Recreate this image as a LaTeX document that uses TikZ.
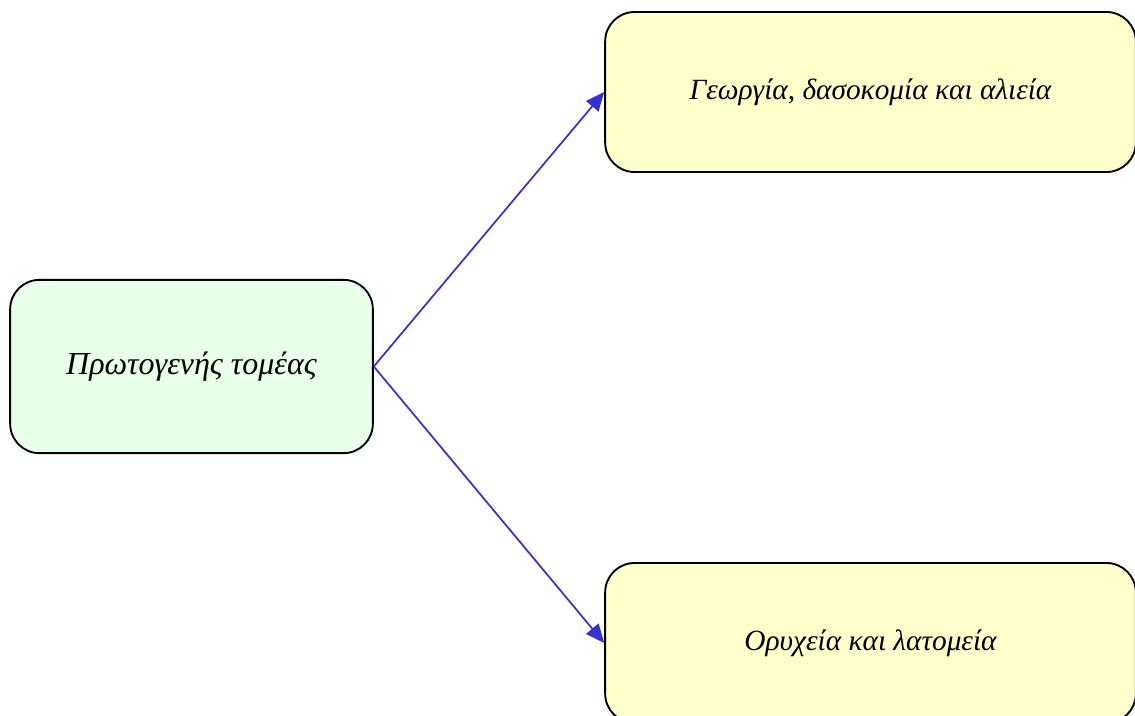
\documentclass[tikz,border=0pt]{standalone}
\usepackage{fontspec}
\setmainfont{Liberation Serif}
\usetikzlibrary{arrows.meta}
\definecolor{gruen}{HTML}{E8FFE8}
\definecolor{gelb}{HTML}{FFFFCC}
\definecolor{blau}{HTML}{3333CC}
\tikzset{
  kasten/.style={draw=black,line width=1.4pt,rounded corners=22pt,inner sep=0pt,
    font=\fontsize{22}{26}\selectfont\itshape},
  pfeil/.style={-{Triangle[length=14pt,width=12pt]},blau,line width=1.3pt},
}

\begin{document}
\begin{tikzpicture}[x=0.75pt,y=-0.75pt]
  \useasboundingbox (0,0) rectangle (1135,715);
  \node[kasten,fill=gruen,minimum width=272pt,minimum height=130pt,
    font=\fontsize{24}{28}\selectfont\itshape] (sektor) at (191.5,366.5) {Πρωτογενής τομέας};
  \node[kasten,fill=gelb,minimum width=398pt,minimum height=120pt] (agrar) at (870.5,92) {Γεωργία, δασοκομία και αλιεία};
  \node[kasten,fill=gelb,minimum width=398pt,minimum height=120pt] (bergbau) at (870.5,643) {Ορυχεία και λατομεία};
  % Verbindungen
  \draw[pfeil] (sektor.east) -- (agrar.west);
  \draw[pfeil] (sektor.east) -- (bergbau.west);
\end{tikzpicture}
\end{document}
